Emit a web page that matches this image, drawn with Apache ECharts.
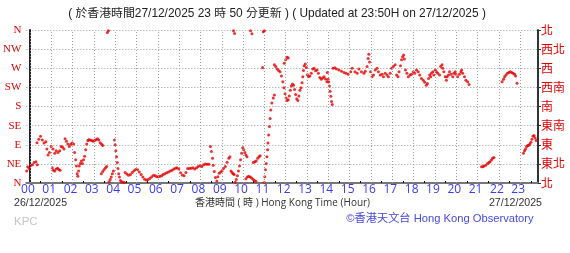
<!DOCTYPE html>
<html><head><meta charset="utf-8">
<script src="https://cdn.jsdelivr.net/npm/echarts@6/dist/echarts.min.js"></script>
<style>html,body{margin:0;padding:0;background:#fff}#c{width:570px;height:253px}</style>
</head><body><div id="c"></div>
<script>
// Hour tick labels (x axis), minutes since 27/12/2025 00:00
const hourLabels = ['00','01','02','03','04','05','06','07','08','09','10','11','12','13','14','15','16','17','18','19','20','21','22','23'];
const hourValues = [0,60,120,180,240,300,360,420,480,540,600,660,720,780,840,900,960,1020,1080,1140,1200,1260,1320,1380];
const halfHourValues = [30,90,150,210,270,330,390,450,510,570,630,690,750,810,870,930,990,1050,1110,1170,1230,1290,1350,1410];
const leftLabels = ['N','NE','E','SE','S','SW','W','NW','N'];
const rightLabels = ['北','東北','東','東南','南','西南','西','西北','北'];

// Wind direction readings: time (minutes from 00:00 on 27/12; negative = 26/12) and direction (degrees)
const minutes = [
 -13,-9,-6,-2,3,7,12,17,21,
 20,25,30,35,40,45,48,51,55,60,65,70,74,79,84,88,92,96,99,103,107,111,115,119,123,
 63,66,70,74,78,82,85,
 126,129,131,133,135,137,139,142,145,148,151,154,157,160,163,166,170,174,178,182,186,190,194,198,202,205,
 201,205,209,213,216,
 218,221,
 223,226,229,232,235,
 238,240,242,244,246,248,250,252,255,258,262,266,
 268,273,278,283,288,293,298,303,308,313,318,323,328,333,338,343,348,353,357,
 362,366,371,375,380,385,390,395,400,405,410,414,419,424,429,434,439,444,449,454,459,464,469,474,479,484,489,494,499,504,
 508,511,514,516,519,522,526,529,533,537,541,545,550,555,560,563,
 566,569,572,575,
 573,576,
 578,581,584,587,590,593,596,599,602,605,608,611,
 608,612,616,620,624,628,632,636,
 621,625,
 629,633,637,641,645,648,
 655,657,660,
 660,661,663,665,667,669,670,672,674,676,678,681,685,688,
 688,692,696,700,704,708,712,715,718,721,724,727,730,733,736,739,742,745,748,751,754,757,760,763,766,768,770,772,775,
 716,720,724,727,
 778,781,784,788,792,796,800,804,808,812,816,820,824,828,832,836,837,839,841,843,845,847,849,851,
 853,858,863,870,877,884,890,896,903,907,915,921,926,933,940,944,949,952,954,956,959,963,967,972,977,981,986,991,995,1000,1005,1009,1014,1018,1023,1028,1032,1036,1039,1043,1046,1049,1052,1054,1057,1061,
 1065,1070,1074,1079,1083,1088,1093,1097,1102,1107,1111,1116,1119,1122,1125,1128,1130,1134,1137,1141,1144,1148,1153,1156,1160,1162,1165,1169,1172,1174,1178,1181,1185,1190,1193,1197,1199,1204,1209,1213,1215,1218,1223,1227,1232,1236,
 1271,1275,1278,1283,1288,1292,1295,1299,1302,1306,
 1329,1333,1336,1340,1344,1348,1352,1356,1360,1364,1367,1371,
 1389,1392,1395,1398,1401,1404,1407,1410,1413,1416,1419,1422,1425
];
const directions = [
 18,28,38,34,42,43,48,50,43,
 95,103,110,101,94,97,80,66,72,86,80,70,76,72,76,86,84,80,104,98,92,86,91,94,92,
 36,30,28,33,35,32,30,
 72,55,40,22,16,28,40,46,52,46,55,63,78,92,100,102,101,100,98,100,102,104,101,95,91,88,
 22,27,32,36,39,
 354,358,
 3,8,14,22,28,
 101,90,76,62,48,34,22,14,6,3,2,1,
 25,21,18,20,25,29,32,31,26,20,14,9,7,8,11,15,18,17,15,
 15,16,17,20,22,24,26,28,30,33,35,36,33,24,19,17,25,34,34,35,36,33,36,39,41,39,43,45,44,44,
 86,74,58,42,27,13,5,15,23,26,29,34,39,49,58,62,
 28,25,22,20,
 358,352,
 2,8,17,28,40,55,70,83,78,72,66,62,
 10,14,16,14,12,9,6,4,
 358,351,
 48,50,52,58,62,64,
 272,356,358,
 1,15,31,46,62,78,94,113,133,152,172,188,200,207,
 278,274,268,265,262,252,238,224,210,200,194,196,205,218,228,233,230,220,208,198,194,205,218,224,236,250,265,276,280,
 282,290,296,294,
 272,255,250,252,258,268,270,264,266,258,248,244,247,250,245,238,260,244,238,228,216,204,192,185,
 270,271,268,266,263,260,258,256,262,270,262,258,268,262,258,263,274,293,303,285,262,250,254,266,270,262,254,256,250,258,254,250,258,270,274,278,254,250,262,276,290,297,301,292,266,258,
 250,254,256,262,258,266,262,254,246,242,237,230,234,246,254,250,258,262,254,266,262,258,254,274,278,270,262,250,242,250,254,262,256,250,258,262,256,250,256,262,266,258,250,242,238,232,
 38,38,40,42,46,48,50,54,58,60,
 238,244,250,254,258,260,262,260,258,256,252,235,
 70,76,80,86,88,89,92,96,103,110,112,106,100
];

const points = minutes.map((m, i) => [m, directions[i]]);
const dotted = { type: [1, 2], color: '#9a9a9a', width: 1 };
const sans = 'Liberation Sans, Noto Sans CJK TC, sans-serif';
const cjk = 'Noto Sans CJK TC, sans-serif';

const chart = echarts.init(document.getElementById('c'), null, { renderer: 'canvas' });
chart.setOption({
  animation: false,
  backgroundColor: '#fff',
  grid: { left: 22, right: 32, top: 30, bottom: 70, containLabel: false },
  xAxis: {
    type: 'value', min: -10, max: 1430,
    axisLine: { show: true, lineStyle: { color: '#777', width: 2 } },
    axisTick: { show: true, inside: true, length: 2, customValues: halfHourValues, lineStyle: { color: '#000' } },
    splitLine: { show: false },
    axisLabel: {
      show: true, customValues: hourValues, margin: 1,
      formatter: v => hourLabels[Math.round(v / 60)] ?? '',
      color: '#3a3af0', fontSize: 12, fontFamily: 'Open Sans, DejaVu Sans, sans-serif',
      padding: [0, 4, 0, 0]
    }
  },
  yAxis: [
    {
      type: 'value', min: 0, max: 360, interval: 45, position: 'left',
      axisLine: { show: true, lineStyle: { color: '#222', width: 2 } },
      axisTick: { show: false },
      splitLine: { show: true, lineStyle: dotted },
      axisLabel: {
        formatter: v => leftLabels[Math.round(v / 45)],
        color: '#e00000', fontSize: 11, fontFamily: 'Liberation Serif, DejaVu Serif, serif', margin: 5
      }
    },
    {
      type: 'value', min: 0, max: 360, interval: 45, position: 'right',
      axisLine: { show: true, lineStyle: { color: '#333', width: 2 } },
      axisTick: { show: true, length: 3, lineStyle: { color: '#333' } },
      splitLine: { show: false },
      axisLabel: {
        formatter: v => rightLabels[Math.round(v / 45)],
        color: '#e00000', fontSize: 12, fontFamily: cjk, margin: 3
      }
    }
  ],
  series: [
    {
      type: 'scatter', data: [], z: 1, silent: true,
      markLine: {
        silent: true, symbol: ['none', 'none'], label: { show: false },
        lineStyle: dotted, animation: false,
        data: hourValues.map(v => ({ xAxis: v }))
      }
    },
    {
      type: 'scatter', data: points, z: 3, symbol: 'circle', symbolSize: 3,
      itemStyle: { color: '#e60000' }, silent: true
    }
  ],
  graphic: [
    { type: 'text', x: 277, y: 14, style: { text: '( 於香港時間27/12/2025 23 時 50 分更新 ) ( Updated at 23:50H on 27/12/2025 )', fill: '#222', fontSize: 11.9, fontFamily: sans, textAlign: 'center', textVerticalAlign: 'middle' } },
    { type: 'text', x: 14, y: 203, style: { text: '26/12/2025', fill: '#333', fontSize: 10.6, fontFamily: sans, textAlign: 'left', textVerticalAlign: 'middle' } },
    { type: 'text', x: 282.5, y: 203, style: { text: '香港時間 ( 時 ) Hong Kong Time (Hour)', fill: '#333', fontSize: 10, fontFamily: 'Open Sans, Noto Sans CJK TC, sans-serif', textAlign: 'center', textVerticalAlign: 'middle' } },
    { type: 'text', x: 542, y: 203, style: { text: '27/12/2025', fill: '#333', fontSize: 10.6, fontFamily: sans, textAlign: 'right', textVerticalAlign: 'middle' } },
    { type: 'text', x: 440, y: 219, style: { text: '©香港天文台 Hong Kong Observatory', fill: '#4848e0', fontSize: 11.2, fontFamily: sans, textAlign: 'center', textVerticalAlign: 'middle' } },
    { type: 'text', x: 14, y: 222, style: { text: 'KPC', fill: '#c4c4c4', fontSize: 11.5, fontFamily: sans, textAlign: 'left', textVerticalAlign: 'middle' } }
  ]
});
</script></body></html>
